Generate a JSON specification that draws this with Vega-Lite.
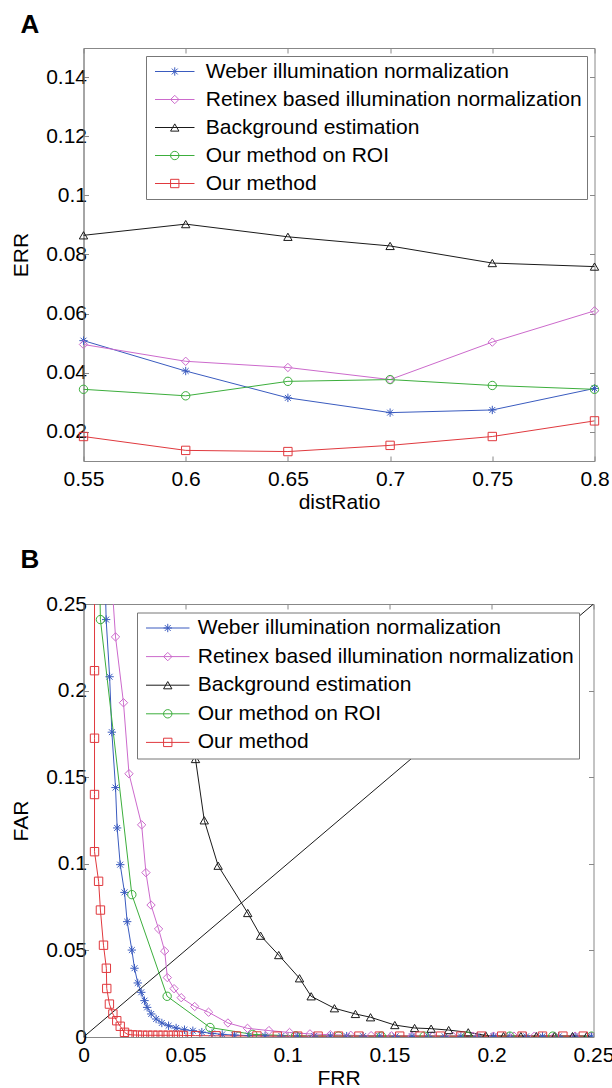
{
  "$schema": "https://vega.github.io/schema/vega-lite/v6.json",
  "background": "white",
  "padding": {"left": 9.5, "top": 11, "right": 0, "bottom": 0},
  "spacing": 33,
  "resolve": {
    "scale": {"color": "independent", "stroke": "independent", "shape": "independent"},
    "legend": {"color": "independent", "stroke": "independent", "shape": "independent"}
  },
  "datasets": {
    "errA": [
      {"method": "Weber illumination normalization", "distRatio": 0.55, "ERR": 0.0508},
      {"method": "Weber illumination normalization", "distRatio": 0.6, "ERR": 0.0405},
      {"method": "Weber illumination normalization", "distRatio": 0.65, "ERR": 0.0314},
      {"method": "Weber illumination normalization", "distRatio": 0.7, "ERR": 0.0264},
      {"method": "Weber illumination normalization", "distRatio": 0.75, "ERR": 0.0273},
      {"method": "Weber illumination normalization", "distRatio": 0.8, "ERR": 0.0346},
      {"method": "Retinex based illumination normalization", "distRatio": 0.55, "ERR": 0.0495},
      {"method": "Retinex based illumination normalization", "distRatio": 0.6, "ERR": 0.0438},
      {"method": "Retinex based illumination normalization", "distRatio": 0.65, "ERR": 0.0417},
      {"method": "Retinex based illumination normalization", "distRatio": 0.7, "ERR": 0.0376},
      {"method": "Retinex based illumination normalization", "distRatio": 0.75, "ERR": 0.0503},
      {"method": "Retinex based illumination normalization", "distRatio": 0.8, "ERR": 0.0609},
      {"method": "Background estimation", "distRatio": 0.55, "ERR": 0.0865},
      {"method": "Background estimation", "distRatio": 0.6, "ERR": 0.0903},
      {"method": "Background estimation", "distRatio": 0.65, "ERR": 0.086},
      {"method": "Background estimation", "distRatio": 0.7, "ERR": 0.0829},
      {"method": "Background estimation", "distRatio": 0.75, "ERR": 0.0771},
      {"method": "Background estimation", "distRatio": 0.8, "ERR": 0.0759},
      {"method": "Our method on ROI", "distRatio": 0.55, "ERR": 0.0343},
      {"method": "Our method on ROI", "distRatio": 0.6, "ERR": 0.0321},
      {"method": "Our method on ROI", "distRatio": 0.65, "ERR": 0.037},
      {"method": "Our method on ROI", "distRatio": 0.7, "ERR": 0.0376},
      {"method": "Our method on ROI", "distRatio": 0.75, "ERR": 0.0356},
      {"method": "Our method on ROI", "distRatio": 0.8, "ERR": 0.0343},
      {"method": "Our method", "distRatio": 0.55, "ERR": 0.0183},
      {"method": "Our method", "distRatio": 0.6, "ERR": 0.0136},
      {"method": "Our method", "distRatio": 0.65, "ERR": 0.0132},
      {"method": "Our method", "distRatio": 0.7, "ERR": 0.0153},
      {"method": "Our method", "distRatio": 0.75, "ERR": 0.0183},
      {"method": "Our method", "distRatio": 0.8, "ERR": 0.0236}
    ],
    "diag": [
      {"FRR": 0, "FAR": 0},
      {"FRR": 0.25, "FAR": 0.25}
    ],
    "rocB": [
      {"method": "Weber illumination normalization", "FRR": 0.0105, "FAR": 0.27},
      {"method": "Weber illumination normalization", "FRR": 0.0111, "FAR": 0.241},
      {"method": "Weber illumination normalization", "FRR": 0.0128, "FAR": 0.208},
      {"method": "Weber illumination normalization", "FRR": 0.0139, "FAR": 0.176},
      {"method": "Weber illumination normalization", "FRR": 0.0157, "FAR": 0.144},
      {"method": "Weber illumination normalization", "FRR": 0.0165, "FAR": 0.1207},
      {"method": "Weber illumination normalization", "FRR": 0.018, "FAR": 0.0995},
      {"method": "Weber illumination normalization", "FRR": 0.0201, "FAR": 0.0835},
      {"method": "Weber illumination normalization", "FRR": 0.0214, "FAR": 0.0666},
      {"method": "Weber illumination normalization", "FRR": 0.0237, "FAR": 0.0502},
      {"method": "Weber illumination normalization", "FRR": 0.025, "FAR": 0.0397},
      {"method": "Weber illumination normalization", "FRR": 0.0266, "FAR": 0.0312},
      {"method": "Weber illumination normalization", "FRR": 0.0283, "FAR": 0.0258},
      {"method": "Weber illumination normalization", "FRR": 0.0299, "FAR": 0.021},
      {"method": "Weber illumination normalization", "FRR": 0.0312, "FAR": 0.0171},
      {"method": "Weber illumination normalization", "FRR": 0.0332, "FAR": 0.0133},
      {"method": "Weber illumination normalization", "FRR": 0.0356, "FAR": 0.0104},
      {"method": "Weber illumination normalization", "FRR": 0.0384, "FAR": 0.0081},
      {"method": "Weber illumination normalization", "FRR": 0.0417, "FAR": 0.0065},
      {"method": "Weber illumination normalization", "FRR": 0.0454, "FAR": 0.0052},
      {"method": "Weber illumination normalization", "FRR": 0.0495, "FAR": 0.0042},
      {"method": "Weber illumination normalization", "FRR": 0.0536, "FAR": 0.0036},
      {"method": "Weber illumination normalization", "FRR": 0.058, "FAR": 0.0028},
      {"method": "Weber illumination normalization", "FRR": 0.063, "FAR": 0.0021},
      {"method": "Weber illumination normalization", "FRR": 0.068, "FAR": 0.0015},
      {"method": "Weber illumination normalization", "FRR": 0.074, "FAR": 0.0011},
      {"method": "Weber illumination normalization", "FRR": 0.081, "FAR": 0.0008},
      {"method": "Weber illumination normalization", "FRR": 0.089, "FAR": 0.0007},
      {"method": "Weber illumination normalization", "FRR": 0.097, "FAR": 0.0006},
      {"method": "Weber illumination normalization", "FRR": 0.105, "FAR": 0.0005},
      {"method": "Weber illumination normalization", "FRR": 0.113, "FAR": 0.0005},
      {"method": "Weber illumination normalization", "FRR": 0.121, "FAR": 0.0005},
      {"method": "Weber illumination normalization", "FRR": 0.129, "FAR": 0.0005},
      {"method": "Weber illumination normalization", "FRR": 0.137, "FAR": 0.0005},
      {"method": "Weber illumination normalization", "FRR": 0.145, "FAR": 0.0005},
      {"method": "Weber illumination normalization", "FRR": 0.153, "FAR": 0.0004},
      {"method": "Weber illumination normalization", "FRR": 0.161, "FAR": 0.0004},
      {"method": "Weber illumination normalization", "FRR": 0.169, "FAR": 0.0004},
      {"method": "Weber illumination normalization", "FRR": 0.177, "FAR": 0.0004},
      {"method": "Weber illumination normalization", "FRR": 0.185, "FAR": 0.0004},
      {"method": "Weber illumination normalization", "FRR": 0.193, "FAR": 0.0004},
      {"method": "Weber illumination normalization", "FRR": 0.201, "FAR": 0.0004},
      {"method": "Weber illumination normalization", "FRR": 0.209, "FAR": 0.0004},
      {"method": "Weber illumination normalization", "FRR": 0.217, "FAR": 0.0004},
      {"method": "Weber illumination normalization", "FRR": 0.225, "FAR": 0.0004},
      {"method": "Weber illumination normalization", "FRR": 0.233, "FAR": 0.0004},
      {"method": "Weber illumination normalization", "FRR": 0.241, "FAR": 0.0004},
      {"method": "Weber illumination normalization", "FRR": 0.249, "FAR": 0.0004},
      {"method": "Retinex based illumination normalization", "FRR": 0.0135, "FAR": 0.27},
      {"method": "Retinex based illumination normalization", "FRR": 0.0157, "FAR": 0.231},
      {"method": "Retinex based illumination normalization", "FRR": 0.0196, "FAR": 0.193},
      {"method": "Retinex based illumination normalization", "FRR": 0.0223, "FAR": 0.152},
      {"method": "Retinex based illumination normalization", "FRR": 0.0285, "FAR": 0.1225},
      {"method": "Retinex based illumination normalization", "FRR": 0.0306, "FAR": 0.0949},
      {"method": "Retinex based illumination normalization", "FRR": 0.0331, "FAR": 0.0762},
      {"method": "Retinex based illumination normalization", "FRR": 0.0368, "FAR": 0.0624},
      {"method": "Retinex based illumination normalization", "FRR": 0.0398, "FAR": 0.0496},
      {"method": "Retinex based illumination normalization", "FRR": 0.0411, "FAR": 0.0343},
      {"method": "Retinex based illumination normalization", "FRR": 0.0444, "FAR": 0.0279},
      {"method": "Retinex based illumination normalization", "FRR": 0.0479, "FAR": 0.0227},
      {"method": "Retinex based illumination normalization", "FRR": 0.0545, "FAR": 0.0176},
      {"method": "Retinex based illumination normalization", "FRR": 0.0613, "FAR": 0.0143},
      {"method": "Retinex based illumination normalization", "FRR": 0.0708, "FAR": 0.0081},
      {"method": "Retinex based illumination normalization", "FRR": 0.0804, "FAR": 0.005},
      {"method": "Retinex based illumination normalization", "FRR": 0.0909, "FAR": 0.0037},
      {"method": "Retinex based illumination normalization", "FRR": 0.101, "FAR": 0.0026},
      {"method": "Retinex based illumination normalization", "FRR": 0.111, "FAR": 0.0018},
      {"method": "Retinex based illumination normalization", "FRR": 0.121, "FAR": 0.0013},
      {"method": "Retinex based illumination normalization", "FRR": 0.131, "FAR": 0.001},
      {"method": "Retinex based illumination normalization", "FRR": 0.141, "FAR": 0.0008},
      {"method": "Retinex based illumination normalization", "FRR": 0.151, "FAR": 0.0007},
      {"method": "Retinex based illumination normalization", "FRR": 0.161, "FAR": 0.0006},
      {"method": "Retinex based illumination normalization", "FRR": 0.171, "FAR": 0.0006},
      {"method": "Retinex based illumination normalization", "FRR": 0.181, "FAR": 0.0005},
      {"method": "Retinex based illumination normalization", "FRR": 0.191, "FAR": 0.0005},
      {"method": "Retinex based illumination normalization", "FRR": 0.201, "FAR": 0.0005},
      {"method": "Retinex based illumination normalization", "FRR": 0.211, "FAR": 0.0005},
      {"method": "Retinex based illumination normalization", "FRR": 0.221, "FAR": 0.0005},
      {"method": "Retinex based illumination normalization", "FRR": 0.231, "FAR": 0.0005},
      {"method": "Retinex based illumination normalization", "FRR": 0.241, "FAR": 0.0005},
      {"method": "Retinex based illumination normalization", "FRR": 0.249, "FAR": 0.0005},
      {"method": "Background estimation", "FRR": 0.051, "FAR": 0.21},
      {"method": "Background estimation", "FRR": 0.0549, "FAR": 0.1605},
      {"method": "Background estimation", "FRR": 0.0592, "FAR": 0.1251},
      {"method": "Background estimation", "FRR": 0.066, "FAR": 0.0989},
      {"method": "Background estimation", "FRR": 0.0805, "FAR": 0.0716},
      {"method": "Background estimation", "FRR": 0.0868, "FAR": 0.0585},
      {"method": "Background estimation", "FRR": 0.0957, "FAR": 0.0473},
      {"method": "Background estimation", "FRR": 0.1059, "FAR": 0.0339},
      {"method": "Background estimation", "FRR": 0.1116, "FAR": 0.0235},
      {"method": "Background estimation", "FRR": 0.123, "FAR": 0.0166},
      {"method": "Background estimation", "FRR": 0.1333, "FAR": 0.0133},
      {"method": "Background estimation", "FRR": 0.1407, "FAR": 0.0114},
      {"method": "Background estimation", "FRR": 0.1526, "FAR": 0.0069},
      {"method": "Background estimation", "FRR": 0.1623, "FAR": 0.0052},
      {"method": "Background estimation", "FRR": 0.1704, "FAR": 0.0048},
      {"method": "Background estimation", "FRR": 0.179, "FAR": 0.004},
      {"method": "Background estimation", "FRR": 0.1886, "FAR": 0.0027},
      {"method": "Background estimation", "FRR": 0.1972, "FAR": 0.0009},
      {"method": "Background estimation", "FRR": 0.2059, "FAR": 0.0005},
      {"method": "Background estimation", "FRR": 0.2144, "FAR": 0.0005},
      {"method": "Background estimation", "FRR": 0.222, "FAR": 0.0005},
      {"method": "Background estimation", "FRR": 0.2309, "FAR": 0.0005},
      {"method": "Background estimation", "FRR": 0.2397, "FAR": 0.0005},
      {"method": "Background estimation", "FRR": 0.2466, "FAR": 0.0005},
      {"method": "Our method on ROI", "FRR": 0.0078, "FAR": 0.27},
      {"method": "Our method on ROI", "FRR": 0.0083, "FAR": 0.241},
      {"method": "Our method on ROI", "FRR": 0.0237, "FAR": 0.0822},
      {"method": "Our method on ROI", "FRR": 0.041, "FAR": 0.0235},
      {"method": "Our method on ROI", "FRR": 0.062, "FAR": 0.0055},
      {"method": "Our method on ROI", "FRR": 0.083, "FAR": 0.0015},
      {"method": "Our method on ROI", "FRR": 0.104, "FAR": 0.0007},
      {"method": "Our method on ROI", "FRR": 0.125, "FAR": 0.0006},
      {"method": "Our method on ROI", "FRR": 0.146, "FAR": 0.0005},
      {"method": "Our method on ROI", "FRR": 0.167, "FAR": 0.0005},
      {"method": "Our method on ROI", "FRR": 0.188, "FAR": 0.0005},
      {"method": "Our method on ROI", "FRR": 0.209, "FAR": 0.0005},
      {"method": "Our method on ROI", "FRR": 0.23, "FAR": 0.0005},
      {"method": "Our method on ROI", "FRR": 0.249, "FAR": 0.0005},
      {"method": "Our method", "FRR": 0.0054, "FAR": 0.27},
      {"method": "Our method", "FRR": 0.0054, "FAR": 0.2115},
      {"method": "Our method", "FRR": 0.0054, "FAR": 0.1725},
      {"method": "Our method", "FRR": 0.0054, "FAR": 0.14},
      {"method": "Our method", "FRR": 0.0054, "FAR": 0.107},
      {"method": "Our method", "FRR": 0.0074, "FAR": 0.0899},
      {"method": "Our method", "FRR": 0.0083, "FAR": 0.0733},
      {"method": "Our method", "FRR": 0.0098, "FAR": 0.053},
      {"method": "Our method", "FRR": 0.0112, "FAR": 0.0397},
      {"method": "Our method", "FRR": 0.0114, "FAR": 0.028},
      {"method": "Our method", "FRR": 0.0127, "FAR": 0.019},
      {"method": "Our method", "FRR": 0.0144, "FAR": 0.0133},
      {"method": "Our method", "FRR": 0.0163, "FAR": 0.0094},
      {"method": "Our method", "FRR": 0.018, "FAR": 0.0062},
      {"method": "Our method", "FRR": 0.0201, "FAR": 0.0027},
      {"method": "Our method", "FRR": 0.0217, "FAR": 0.0015},
      {"method": "Our method", "FRR": 0.024, "FAR": 0.0012},
      {"method": "Our method", "FRR": 0.0265, "FAR": 0.0011},
      {"method": "Our method", "FRR": 0.029, "FAR": 0.001},
      {"method": "Our method", "FRR": 0.0315, "FAR": 0.001},
      {"method": "Our method", "FRR": 0.034, "FAR": 0.001},
      {"method": "Our method", "FRR": 0.0365, "FAR": 0.001},
      {"method": "Our method", "FRR": 0.039, "FAR": 0.001},
      {"method": "Our method", "FRR": 0.0415, "FAR": 0.001},
      {"method": "Our method", "FRR": 0.044, "FAR": 0.001},
      {"method": "Our method", "FRR": 0.0465, "FAR": 0.001},
      {"method": "Our method", "FRR": 0.049, "FAR": 0.0009},
      {"method": "Our method", "FRR": 0.055, "FAR": 0.0008},
      {"method": "Our method", "FRR": 0.065, "FAR": 0.0007},
      {"method": "Our method", "FRR": 0.075, "FAR": 0.0006},
      {"method": "Our method", "FRR": 0.085, "FAR": 0.0006},
      {"method": "Our method", "FRR": 0.095, "FAR": 0.0005},
      {"method": "Our method", "FRR": 0.105, "FAR": 0.0005},
      {"method": "Our method", "FRR": 0.115, "FAR": 0.0005},
      {"method": "Our method", "FRR": 0.125, "FAR": 0.0005},
      {"method": "Our method", "FRR": 0.135, "FAR": 0.0005},
      {"method": "Our method", "FRR": 0.145, "FAR": 0.0005},
      {"method": "Our method", "FRR": 0.155, "FAR": 0.0005},
      {"method": "Our method", "FRR": 0.165, "FAR": 0.0005},
      {"method": "Our method", "FRR": 0.175, "FAR": 0.0005},
      {"method": "Our method", "FRR": 0.185, "FAR": 0.0005},
      {"method": "Our method", "FRR": 0.195, "FAR": 0.0005},
      {"method": "Our method", "FRR": 0.205, "FAR": 0.0005},
      {"method": "Our method", "FRR": 0.215, "FAR": 0.0005},
      {"method": "Our method", "FRR": 0.225, "FAR": 0.0005},
      {"method": "Our method", "FRR": 0.235, "FAR": 0.0005},
      {"method": "Our method", "FRR": 0.245, "FAR": 0.0005}
    ]
  },
  "vconcat": [
    {
      "title": {"text": "A", "offset": 10, "dx": -63, "frame": "group"},
      "width": 511,
      "height": 413,
      "data": {"name": "errA"},
      "resolve": {"axis": {"x": "independent", "y": "independent"}},
      "layer": [
        {
          "mark": {"type": "line", "strokeWidth": 1},
          "encoding": {
            "x": {"field": "distRatio", "type": "quantitative", "scale": {"domain": [0.55, 0.8], "nice": false, "zero": false},
                  "axis": {"orient": "bottom", "values": [0.55, 0.6, 0.65, 0.7, 0.75, 0.8], "format": "~g", "title": "distRatio"}},
            "y": {"field": "ERR", "type": "quantitative", "scale": {"domain": [0.01, 0.15], "nice": false, "zero": false},
                  "axis": {"orient": "left", "values": [0.02, 0.04, 0.06, 0.08, 0.1, 0.12, 0.14], "format": "~g", "title": "ERR"}},
            "color": {"field": "method", "type": "nominal",
                      "sort": ["Weber illumination normalization", "Retinex based illumination normalization", "Background estimation", "Our method on ROI", "Our method"],
                      "scale": {"range": ["#3a5bbf", "#cc6acc", "#1a1a1a", "#3cae3c", "#e0393e"]},
                      "legend": {"orient": "none", "legendX": 62.5, "legendY": 8, "title": null, "symbolType": "stroke", "symbolSize": 1560, "symbolStrokeWidth": 1, "symbolOffset": 3.25, "labelOffset": 10.5, "padding": 5, "rowPadding": 6, "clipHeight": 21, "strokeColor": "#777", "fillColor": "white", "labelLimit": 600}}
          }
        },
        {
          "mark": {"type": "point", "filled": false, "size": 70, "strokeWidth": 1, "opacity": 1},
          "encoding": {
            "x": {"field": "distRatio", "type": "quantitative",
                  "axis": {"orient": "top", "values": [0.55, 0.6, 0.65, 0.7, 0.75, 0.8], "labels": false, "domain": false, "title": null}},
            "y": {"field": "ERR", "type": "quantitative",
                  "axis": {"orient": "right", "values": [0.02, 0.04, 0.06, 0.08, 0.1, 0.12, 0.14], "labels": false, "domain": false, "title": null}},
            "stroke": {"field": "method", "type": "nominal",
                       "scale": {"domain": ["Weber illumination normalization", "Retinex based illumination normalization", "Background estimation", "Our method on ROI", "Our method"],
                                 "range": ["#3a5bbf", "#cc6acc", "#1a1a1a", "#3cae3c", "#e0393e"]},
                       "legend": {"orient": "none", "legendX": 62.5, "legendY": 8, "title": null, "symbolSize": 70, "symbolStrokeWidth": 1, "symbolOffset": 13.25, "labelOffset": 10.5, "padding": 5, "rowPadding": 6, "clipHeight": 21, "labelOpacity": 0, "labelLimit": 600}},
            "shape": {"field": "method", "type": "nominal",
                      "scale": {"domain": ["Weber illumination normalization", "Retinex based illumination normalization", "Background estimation", "Our method on ROI", "Our method"],
                                "range": ["M-1,0L1,0M0,-1L0,1M-0.7,-0.7L0.7,0.7M-0.7,0.7L0.7,-0.7", "diamond", "triangle-up", "circle", "square"]},
                      "legend": {"orient": "none", "legendX": 62.5, "legendY": 8, "title": null, "symbolSize": 70, "symbolStrokeWidth": 1, "symbolOffset": 13.25, "labelOffset": 10.5, "padding": 5, "rowPadding": 6, "clipHeight": 21, "labelOpacity": 0, "labelLimit": 600}}
          }
        }
      ]
    },
    {
      "title": {"text": "B", "offset": 20, "dx": -63, "frame": "group"},
      "width": 510,
      "height": 433,
      "resolve": {"axis": {"x": "independent", "y": "independent"}},
      "layer": [
        {
          "data": {"name": "diag"},
          "mark": {"type": "line", "strokeWidth": 1, "color": "#1a1a1a", "clip": true},
          "encoding": {
            "x": {"field": "FRR", "type": "quantitative", "scale": {"domain": [0, 0.25], "nice": false},
                  "axis": {"orient": "bottom", "values": [0, 0.05, 0.1, 0.15, 0.2, 0.25], "format": "~g", "title": "FRR"}},
            "y": {"field": "FAR", "type": "quantitative", "scale": {"domain": [0, 0.25], "nice": false},
                  "axis": {"orient": "left", "values": [0, 0.05, 0.1, 0.15, 0.2, 0.25], "format": "~g", "title": "FAR"}}
          }
        },
        {
          "data": {"name": "rocB"},
          "mark": {"type": "line", "strokeWidth": 1, "clip": true},
          "encoding": {
            "x": {"field": "FRR", "type": "quantitative", "axis": null},
            "y": {"field": "FAR", "type": "quantitative", "axis": null},
            "order": [{"field": "FAR", "sort": "descending"}, {"field": "FRR", "sort": "ascending"}],
            "color": {"field": "method", "type": "nominal",
                      "sort": ["Weber illumination normalization", "Retinex based illumination normalization", "Background estimation", "Our method on ROI", "Our method"],
                      "scale": {"range": ["#3a5bbf", "#cc6acc", "#1a1a1a", "#3cae3c", "#e0393e"]},
                      "legend": {"orient": "none", "legendX": 53.5, "legendY": 8.5, "title": null, "symbolType": "stroke", "symbolSize": 1892, "symbolStrokeWidth": 1, "symbolOffset": 3.25, "labelOffset": 7.5, "padding": 5, "rowPadding": 6.6, "clipHeight": 21, "strokeColor": "#777", "fillColor": "white", "labelLimit": 600}}
          }
        },
        {
          "data": {"name": "rocB"},
          "mark": {"type": "point", "filled": false, "size": 70, "strokeWidth": 1, "opacity": 1, "clip": true},
          "encoding": {
            "x": {"field": "FRR", "type": "quantitative",
                  "axis": {"orient": "top", "values": [0, 0.05, 0.1, 0.15, 0.2, 0.25], "labels": false, "domain": false, "title": null}},
            "y": {"field": "FAR", "type": "quantitative",
                  "axis": {"orient": "right", "values": [0, 0.05, 0.1, 0.15, 0.2, 0.25], "labels": false, "domain": false, "title": null}},
            "stroke": {"field": "method", "type": "nominal",
                       "scale": {"domain": ["Weber illumination normalization", "Retinex based illumination normalization", "Background estimation", "Our method on ROI", "Our method"],
                                 "range": ["#3a5bbf", "#cc6acc", "#1a1a1a", "#3cae3c", "#e0393e"]},
                       "legend": {"orient": "none", "legendX": 53.5, "legendY": 8.5, "title": null, "symbolSize": 70, "symbolStrokeWidth": 1, "symbolOffset": 15.25, "labelOffset": 7.5, "padding": 5, "rowPadding": 6.6, "clipHeight": 21, "labelOpacity": 0, "labelLimit": 600}},
            "shape": {"field": "method", "type": "nominal",
                      "scale": {"domain": ["Weber illumination normalization", "Retinex based illumination normalization", "Background estimation", "Our method on ROI", "Our method"],
                                "range": ["M-1,0L1,0M0,-1L0,1M-0.7,-0.7L0.7,0.7M-0.7,0.7L0.7,-0.7", "diamond", "triangle-up", "circle", "square"]},
                      "legend": {"orient": "none", "legendX": 53.5, "legendY": 8.5, "title": null, "symbolSize": 70, "symbolStrokeWidth": 1, "symbolOffset": 15.25, "labelOffset": 7.5, "padding": 5, "rowPadding": 6.6, "clipHeight": 21, "labelOpacity": 0, "labelLimit": 600}}
          }
        }
      ]
    }
  ],
  "config": {
    "font": "Liberation Sans",
    "view": {"stroke": "#888", "strokeWidth": 1},
    "axis": {
      "labelFont": "Liberation Sans", "labelFontSize": 21, "labelColor": "#000",
      "titleFont": "Liberation Sans", "titleFontSize": 21, "titleFontWeight": "normal", "titleColor": "#000",
      "domainColor": "#888", "tickColor": "#888", "grid": false,
      "labelFlush": false, "labelOverlap": false, "tickSize": -5
    },
    "axisX": {"labelPadding": 12, "titlePadding": 2},
    "axisY": {"labelPadding": 2, "titlePadding": 14.5},
    "legend": {"labelFont": "Liberation Sans", "labelFontSize": 21, "labelColor": "#000"},
    "title": {"font": "Liberation Sans", "fontSize": 26, "fontWeight": "bold", "anchor": "start", "color": "#000"}
  }
}
